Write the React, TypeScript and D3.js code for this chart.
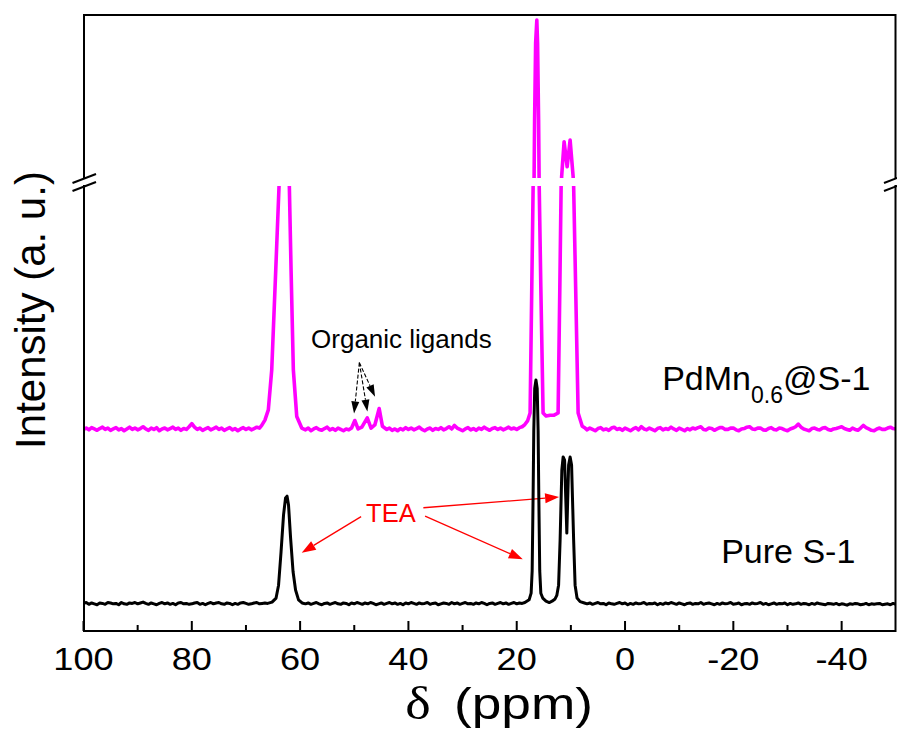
import React from 'react';
import * as d3 from 'd3';

const W = 897;
const H = 734;

// Spectra are stored as flat-baseline runs (sampled every 0.5 ppm, starting at `from`)
// plus hand-placed points through the resonances: [ppm, intensity (a.u.)]
const PPM_STEP = 0.5;

const pdmnBaseline: { from: number; values: number[] }[] = [
  {
    from: 100,
    values: [
      45.3, 45.6, 45.2, 45.7, 45.4, 45.1, 45.5, 45.8, 45.3, 45.6,
      45.1, 45.4, 45.7, 45.2, 45.5, 45.0, 45.4, 45.8, 45.3, 45.6,
      45.2, 45.5, 45.9, 45.4, 45.1, 45.6, 45.3, 45.7, 45.0, 45.4,
      45.6, 45.2, 45.5, 45.8, 45.3, 45.6, 45.1, 45.5, 45.3, 45.9,
      46.6, 45.8, 45.3, 45.6, 45.1, 45.4, 45.7, 45.2, 45.5, 45.8,
      45.3, 45.6, 45.1, 45.4, 45.7, 45.2, 45.5, 45.0, 45.4, 45.7,
      45.3, 45.6, 45.2, 45.5, 45.8, 45.6,
    ],
  },
  {
    from: 59,
    values: [
      45.2, 45.6, 45.0, 45.4, 45.7, 45.3, 45.1, 45.5, 45.8, 45.2,
      45.5, 45.1, 45.6, 45.3, 45.0, 45.4, 45.2,
    ],
  },
  {
    from: 44,
    values: [
      45.3, 45.6, 45.1, 45.4, 45.0, 45.5, 45.2, 45.7, 45.3, 45.6,
      45.2, 45.5, 45.8, 45.3, 45.0, 45.4, 45.6, 45.1, 45.5, 45.3,
      45.7, 45.2, 45.5, 45.9, 45.4, 46.2, 45.6, 45.3, 45.0, 45.4,
      45.7, 45.2, 45.5, 45.1, 45.6, 45.3, 45.8, 45.4, 45.1, 45.5,
      45.7, 45.3, 45.6, 45.2, 45.5, 45.8, 45.4, 45.6, 45.3, 45.7,
      45.9, 46.4,
    ],
  },
  {
    from: 7,
    values: [
      45.2, 45.6, 45.3, 45.0, 45.5, 45.7, 45.2, 45.4, 45.1, 45.6,
      45.8, 45.3, 45.5, 45.1, 45.6, 45.3, 45.0, 45.4, 45.7, 45.2,
      45.9, 45.4, 45.2, 45.6, 45.3, 45.0, 45.5, 45.7, 45.2, 45.5,
      45.3, 45.8, 45.4, 45.1, 45.6, 45.3, 45.0, 45.5, 45.2, 45.6,
      45.4, 45.7, 45.9, 45.3, 45.2, 45.6, 45.5, 45.1, 45.4, 45.7,
      45.7, 45.3, 45.3, 45.6, 45.6, 45.2, 45.0, 45.4, 45.5, 45.8,
      45.9, 45.4, 45.3, 45.6, 45.6, 45.2, 45.1, 45.5, 45.7, 45.3,
      45.2, 45.6, 45.5, 45.2, 45.0, 45.4, 45.6, 45.9, 46.5, 45.8,
      45.4, 45.2, 45.0, 45.5, 45.6, 45.3, 45.2, 45.6, 45.7, 45.3,
      45.1, 45.4, 45.5, 45.7, 45.9, 45.5, 45.3, 45.1, 45.6, 45.3,
      45.1, 45.6, 46.2, 45.7, 45.4, 45.1, 45.0, 45.4, 45.6, 45.3,
      45.3, 45.6, 45.8, 45.5, 45.4,
    ],
  },
];

const pdmnPeaks: [number, number][] = [
  // 63 ppm (top lies inside the axis break)
  [67.09, 46.2], [66.5, 47.4], [65.87, 49.7], [65.24, 58.7], [64.5, 81.1], [63.89, 100],
  [63.5, 125], [63.0, 138], [62.5, 125], [61.99, 100], [61.67, 81.1], [61.25, 58.7],
  [60.62, 48.2], [59.7, 45.6],
  // organic ligands
  [50.5, 45.6], [49.9, 47.3], [49.3, 45.4], [48.6, 45.8], [47.6, 47.9], [46.9, 45.6],
  [46.2, 46.3], [45.4, 50.0], [44.8, 46.0],
  // 16 ppm and the 11/10 ppm doublet
  [18.0, 47.2], [17.53, 49.0], [17.22, 77.3], [16.97, 100], [16.79, 151.7], [16.7, 246],
  [16.51, 373.5], [16.29, 411.7], [16.15, 373.5], [15.96, 246], [15.87, 151.7], [15.85, 100],
  [15.55, 77.3], [15.13, 49.0], [14.58, 48.3], [13.84, 48.5], [13.1, 48.5], [12.36, 49.0],
  [12.04, 77.3], [11.8, 100], [11.71, 151.7], [11.25, 210.1], [10.69, 168.7], [10.14, 212.9],
  [9.58, 151.7], [9.49, 100], [9.12, 77.3], [8.66, 49.0], [7.9, 46.0], [7.37, 45.6],
];

const pureBaseline: { from: number; values: number[] }[] = [
  {
    from: 100,
    values: [
      6.2, 6.4, 6.0, 6.3, 6.1, 5.9, 6.3, 6.2, 6.0, 6.4,
      6.3, 6.1, 6.2, 5.9, 6.4, 6.1, 6.0, 6.3, 6.2, 6.4,
      6.1, 6.3, 6.5, 6.2, 6.0, 6.3, 6.1, 5.9, 6.2, 6.4,
      6.1, 6.3, 6.0, 6.2, 5.9, 6.3, 6.4, 6.1, 6.2, 6.0,
      6.1, 6.3, 6.4, 6.0, 6.2, 5.9, 6.2, 6.4, 6.1, 6.3,
      6.4, 6.1, 6.0, 6.3, 6.2, 5.9, 6.2, 6.0, 6.3, 6.4,
      6.2, 6.0, 6.1, 6.3, 6.4, 6.1, 6.2, 6.3, 6.2,
    ],
  },
  {
    from: 59,
    values: [
      6.1, 6.3, 6.0, 6.2, 6.4, 6.1, 5.9, 6.2, 6.3, 6.0,
      6.2, 6.4, 6.1, 6.0, 6.3, 6.2, 5.9, 6.3, 6.1, 6.4,
      6.2, 6.0, 6.3, 6.1, 6.4, 6.2, 5.9, 6.1, 6.3, 6.0,
      6.2, 6.4, 6.1, 6.3, 6.0, 6.2, 5.9, 6.3, 6.1, 6.4,
      6.2, 6.0, 6.3, 6.1, 6.2, 6.4, 6.0, 6.2, 6.3, 5.9,
      6.1, 6.3, 6.2, 6.0, 6.4, 6.1, 6.3, 6.0, 6.2, 6.4,
      6.1, 6.2, 6.0, 6.3, 6.1, 6.4, 6.2, 5.9, 6.2, 6.3,
      6.0, 6.2, 6.4, 6.1, 6.3, 6.0, 6.2, 6.4, 6.1, 6.3,
      6.2,
    ],
  },
  {
    from: 7,
    values: [
      6.1, 6.3, 6.0, 6.2, 6.4, 6.1, 6.2, 5.9, 6.3, 6.1,
      6.0, 6.2, 6.4, 6.1, 6.3, 5.9, 6.2, 6.0, 6.3, 6.1,
      6.2, 6.4, 6.0, 6.2, 6.1, 6.3, 5.9, 6.2, 6.0, 6.3,
      6.1, 6.4, 6.2, 6.0, 6.3, 6.1, 5.9, 6.2, 6.3, 6.0,
      6.2, 6.1, 6.4, 6.0, 6.2, 6.3, 6.1, 5.9, 6.2, 6.0,
      6.3, 6.1, 6.2, 6.4, 6.0, 6.1, 6.3, 5.9, 6.1, 6.2,
      6.0, 6.3, 6.1, 6.2, 6.4, 6.0, 6.2, 5.9, 6.1, 6.3,
      6.0, 6.2, 6.1, 6.3, 5.9, 6.2, 6.0, 6.1, 6.3, 6.0,
      6.2, 6.1, 5.9, 6.2, 6.0, 6.3, 6.1, 6.0, 5.9, 6.2,
      6.1, 6.0, 6.2, 5.9, 6.1, 6.0, 5.8, 6.1, 6.0, 6.2,
      6.1, 5.9, 6.0, 6.2, 5.9, 6.1, 6.0, 6.1, 6.2, 5.9,
      6.0, 6.1, 5.9, 6.2, 6.0,
    ],
  },
];

const purePeaks: [number, number][] = [
  // 63 ppm
  [65.18, 6.5], [64.44, 7.4], [63.98, 10.3], [63.52, 17.8], [63.06, 26.1], [62.69, 29.9],
  [62.41, 30.3], [62.14, 28.3], [61.77, 21.1], [61.3, 13.3], [60.84, 9.2], [60.29, 7.0],
  [59.64, 6.3],
  // 16 ppm and the 11/10 ppm doublet
  [18.5, 6.4], [17.71, 7.0], [17.34, 8.5], [17.15, 13.5], [16.98, 30], [16.85, 45],
  [16.68, 54.5], [16.45, 56.4], [16.22, 54.5], [16.05, 45], [15.92, 30], [15.75, 13.5],
  [15.55, 8.5], [15.2, 7.4], [14.6, 6.7], [14.0, 6.4], [13.47, 6.7], [12.92, 7.2],
  [12.6, 8.0], [12.27, 10.3], [11.99, 20.4], [11.67, 36.2], [11.43, 39.1], [11.16, 38.4],
  [10.75, 22.0], [10.42, 37.3], [10.14, 39.1], [9.87, 37.3], [9.49, 20.4], [9.22, 10.3],
  [8.86, 7.4], [8.3, 6.6], [7.5, 6.3],
];

const majorTicks = [100, 80, 60, 40, 20, 0, -20, -40];
const tickLabels = ['100', '80', '60', '40', '20', '0', '-20', '-40'];
const minorTicks = [90, 70, 50, 30, 10, -10, -30];

// annotation arrows in data coordinates: [from ppm, from I, to ppm, to I]
const ligandArrows: [number, number, number, number][] = [
  [49.06, 60.3, 50.04, 48.9],
  [49.06, 60.3, 47.58, 49.3],
  [49.06, 60.3, 46.16, 52.65],
];
const teaArrows: [number, number, number, number][] = [
  [48.74, 25.7, 59.7, 17.6],
  [36.92, 25.8, 18.88, 16.1],
  [37.24, 27.7, 12.17, 30.1],
];

const SANS = "'Liberation Sans', Arial, Helvetica, sans-serif";
const SERIF = "'Liberation Serif', 'Times New Roman', serif";

const frame = { left: 84, right: 895.5, top: 15, bottom: 631 };
const breakLowY = 186;
const breakHighY = 178;

function buildSpectrum(runs: { from: number; values: number[] }[], peaks: [number, number][]) {
  const pts: [number, number][] = [];
  runs.forEach((r) => r.values.forEach((v, i) => pts.push([r.from - i * PPM_STEP, v])));
  peaks.forEach((p) => pts.push(p));
  return pts.sort((a, b) => b[0] - a[0]);
}

function arrowHead(x1: number, y1: number, x2: number, y2: number, len: number, half: number) {
  const dx = x2 - x1;
  const dy = y2 - y1;
  const d = Math.hypot(dx, dy);
  const ux = dx / d;
  const uy = dy / d;
  const bx = x2 - ux * len;
  const by = y2 - uy * len;
  const pts = [
    [x2, y2],
    [bx - uy * half, by + ux * half],
    [bx + uy * half, by - ux * half],
  ];
  return { points: pts.map((p) => p.join(',')).join(' '), bx, by };
}

export default function App() {
  const x = d3.scaleLinear().domain([100, -50]).range([83.5, 895.8]);
  const yLow = d3.scaleLinear().domain([0, 100]).range([frame.bottom, breakLowY]);
  const yHigh = d3.scaleLinear().domain([150, 420]).range([breakHighY, frame.top]);

  const pdmn = buildSpectrum(pdmnBaseline, pdmnPeaks);
  const pure = buildSpectrum(pureBaseline, purePeaks);

  const lineLow = d3
    .line<[number, number]>()
    .x((d) => x(d[0]))
    .y((d) => yLow(d[1]));
  const lineHigh = d3
    .line<[number, number]>()
    .x((d) => x(d[0]))
    .y((d) => yHigh(d[1]));

  const renderArrows = (
    list: [number, number, number, number][],
    color: string,
    width: number,
    dash: string | undefined,
    len: number,
    half: number,
  ) =>
    list.map((a, i) => {
      const x1 = x(a[0]);
      const y1 = yLow(a[1]);
      const x2 = x(a[2]);
      const y2 = yLow(a[3]);
      const h = arrowHead(x1, y1, x2, y2, len, half);
      return (
        <g key={i}>
          <line x1={x1} y1={y1} x2={h.bx} y2={h.by} stroke={color} strokeWidth={width} strokeDasharray={dash} />
          <polygon points={h.points} fill={color} />
        </g>
      );
    });

  return (
    <svg
      width={W}
      height={H}
      viewBox={`0 0 ${W} ${H}`}
      style={{ position: 'absolute', left: 0, top: 0, background: '#fff' }}
    >
      <defs>
        <clipPath id="clip-low">
          <rect x={frame.left} y={breakLowY} width={frame.right - frame.left} height={frame.bottom - breakLowY} />
        </clipPath>
        <clipPath id="clip-high">
          <rect x={frame.left} y={frame.top} width={frame.right - frame.left} height={breakHighY - frame.top} />
        </clipPath>
      </defs>

      {/* annotation arrows sit under the traces */}
      {renderArrows(teaArrows, '#ff0000', 1.3, undefined, 14, 5)}
      {renderArrows(ligandArrows, '#000', 1.1, '4 2', 12, 4)}

      {/* PdMn0.6@S-1 */}
      <g fill="none" stroke="#ff00ff" strokeWidth={3.6} strokeLinejoin="round">
        <path d={lineLow(pdmn) || ''} clipPath="url(#clip-low)" />
        <path d={lineHigh(pdmn) || ''} clipPath="url(#clip-high)" />
      </g>
      {/* Pure S-1 */}
      <g fill="none" stroke="#000" strokeWidth={3} strokeLinejoin="round">
        <path d={lineLow(pure) || ''} clipPath="url(#clip-low)" />
        <path d={lineHigh(pure) || ''} clipPath="url(#clip-high)" />
      </g>

      {/* frame */}
      <rect
        x={frame.left}
        y={frame.top}
        width={frame.right - frame.left}
        height={frame.bottom - frame.top}
        fill="none"
        stroke="#000"
        strokeWidth={2}
      />
      {/* axis break */}
      <rect x={frame.left - 2} y={breakHighY + 1} width={4} height={breakLowY - breakHighY - 2} fill="#fff" />
      <rect x={frame.right - 2} y={breakHighY + 1} width={4} height={breakLowY - breakHighY - 2} fill="#fff" />
      <g stroke="#000" strokeWidth={2}>
        <line x1={frame.left - 11.5} y1={breakHighY + 5} x2={frame.left + 12} y2={breakHighY - 4} />
        <line x1={frame.left - 11.5} y1={breakLowY + 5} x2={frame.left + 12} y2={breakLowY - 4} />
        <line x1={frame.right - 11.5} y1={breakHighY + 5} x2={frame.right + 12} y2={breakHighY - 4} />
        <line x1={frame.right - 11.5} y1={breakLowY + 5} x2={frame.right + 12} y2={breakLowY - 4} />
      </g>

      {/* bottom axis ticks (inward) */}
      <g stroke="#000" strokeWidth={2}>
        {majorTicks.map((t) => (
          <line key={`M${t}`} x1={x(t)} x2={x(t)} y1={frame.bottom} y2={frame.bottom - 10} />
        ))}
        {minorTicks.map((t) => (
          <line key={`m${t}`} x1={x(t)} x2={x(t)} y1={frame.bottom} y2={frame.bottom - 6} />
        ))}
      </g>
      <g fontFamily={SANS} fontSize={32} textAnchor="middle" fill="#000">
        {majorTicks.map((t, i) => (
          <text key={t} transform={`translate(${x(t)},670) scale(1.13,1)`}>
            {tickLabels[i]}
          </text>
        ))}
      </g>

      {/* axis titles */}
      <text transform="translate(418,719) scale(1.15,1)" fontFamily={SERIF} fontSize={47} textAnchor="middle">
        δ
      </text>
      <text transform="translate(454,719) scale(1.21,1)" fontFamily={SANS} fontSize={44}>
        (ppm)
      </text>
      <text transform="translate(45,310) rotate(-90)" fontFamily={SANS} fontSize={42} textAnchor="middle">
        Intensity (a. u.)
      </text>

      {/* labels */}
      <text x={x(57.98)} y={yLow(63.6)} fontFamily={SANS} fontSize={26}>
        Organic ligands
      </text>
      <text x={x(47.82)} y={yLow(24.5)} fontFamily={SANS} fontSize={25.5} fill="#ff0000">
        TEA
      </text>
      <text x={x(-6.85)} y={yLow(54.2)} fontFamily={SANS} fontSize={34}>
        PdMn
        <tspan fontSize={23} dy={13}>
          0.6
        </tspan>
        <tspan dy={-13}>@S-1</tspan>
      </text>
      <text x={x(-17.75)} y={yLow(15.3)} fontFamily={SANS} fontSize={34}>
        Pure S-1
      </text>
    </svg>
  );
}
